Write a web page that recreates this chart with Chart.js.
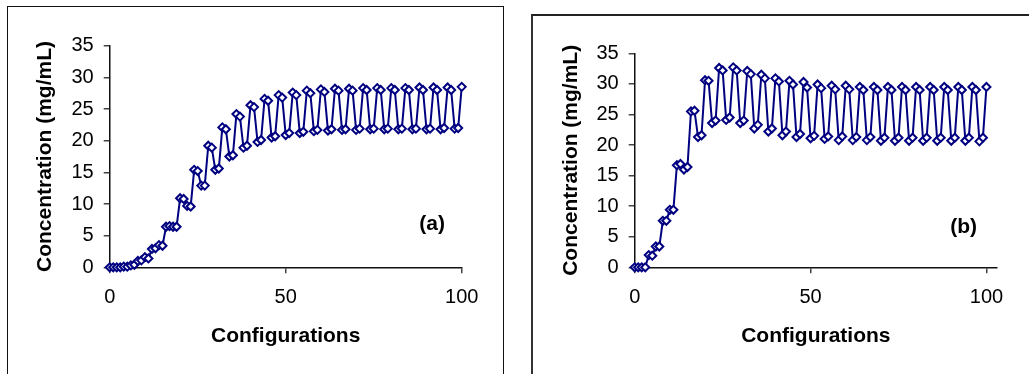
<!DOCTYPE html>
<html>
<head>
<meta charset="utf-8">
<script src="https://cdn.jsdelivr.net/npm/chart.js@4/dist/chart.umd.min.js"></script>
<style>
  html, body { margin: 0; padding: 0; background: #fff; }
  body { width: 1029px; height: 374px; position: relative; overflow: hidden; }
  .frame { position: absolute; box-sizing: border-box; }
  #frame-a { left: 7px; top: 6px; width: 497px; height: 400px; border: 1px solid #111; border-bottom: none; }
  #frame-b { left: 531px; top: 14px; width: 520px; height: 400px; border-left: 2px solid #333; border-top: 2px solid #222; }
  #wrap-a { position: absolute; left: 0; top: 0; width: 515px; height: 374px; }
  #wrap-b { position: absolute; left: 515px; top: 0; width: 514px; height: 374px; }
</style>
</head>
<body>
<div class="frame" id="frame-a"></div>
<div class="frame" id="frame-b"></div>
<div id="wrap-a"><canvas id="chart-a"></canvas></div>
<div id="wrap-b"><canvas id="chart-b"></canvas></div>
<script>
// Concentration (mg/mL) per configuration, panel (a)
const concA = [
  0, 0, 0, 0, 0.1, 0.1, 0.3, 0.4, 1.0, 1.1,
  1.6, 1.4, 2.9, 3.0, 3.5, 3.4, 6.4, 6.5, 6.4, 6.4,
  10.9, 10.8, 9.7, 9.6, 15.4, 15.2, 12.9, 12.9, 19.2, 18.9,
  15.4, 15.6, 22.1, 21.8, 17.5, 17.7, 24.2, 23.8, 18.9, 19.2,
  25.6, 25.3, 19.8, 20.1, 26.6, 26.3, 20.5, 20.7, 27.2, 26.8,
  20.9, 21.2, 27.6, 27.2, 21.2, 21.4, 27.9, 27.5, 21.5, 21.7,
  28.1, 27.7, 21.6, 21.8, 28.2, 27.9, 21.7, 21.8, 28.2, 27.9,
  21.7, 21.9, 28.3, 28.0, 21.8, 21.9, 28.3, 28.0, 21.8, 21.9,
  28.3, 28.0, 21.8, 21.9, 28.3, 28.0, 21.8, 21.9, 28.4, 28.0,
  21.8, 21.9, 28.4, 28.0, 21.8, 22.0, 28.4, 28.0, 21.9, 22.0,
  28.5
];

// Concentration (mg/mL) per configuration, panel (b)
const concB = [
  0, 0, 0, 0, 2.0, 1.9, 3.4, 3.4, 7.6, 7.6,
  9.4, 9.4, 16.7, 16.9, 16.0, 16.4, 25.5, 25.6, 21.3, 21.6,
  30.6, 30.5, 23.6, 24.0, 32.6, 32.2, 24.1, 24.5, 32.7, 32.2,
  23.6, 24.0, 32.1, 31.6, 22.7, 23.3, 31.5, 30.9, 22.2, 22.7,
  30.9, 30.4, 21.6, 22.2, 30.5, 29.9, 21.3, 21.8, 30.3, 29.4,
  21.1, 21.5, 29.9, 29.3, 21.0, 21.4, 29.7, 29.1, 20.8, 21.4,
  29.7, 29.1, 20.8, 21.3, 29.5, 29.0, 20.8, 21.3, 29.5, 29.0,
  20.7, 21.2, 29.5, 29.0, 20.7, 21.2, 29.5, 29.0, 20.7, 21.2,
  29.5, 29.0, 20.7, 21.2, 29.5, 29.0, 20.7, 21.2, 29.5, 29.0,
  20.7, 21.2, 29.5, 29.0, 20.7, 21.2, 29.5, 29.0, 20.6, 21.2,
  29.5
];

const xTicks = [0, 50, 100];
const yTicks = [0, 5, 10, 15, 20, 25, 30, 35];
const xTitle = "Configurations";
const yTitle = "Concentration (mg/mL)";

const navy = "#000080";
const fontFamily = "'Liberation Sans', Arial, sans-serif";

// Small plugin that writes the panel letter inside the plot
const panelLabel = {
  id: "panelLabel",
  afterDatasetsDraw(chart, args, opts) {
    const { ctx, scales } = chart;
    ctx.save();
    ctx.font = "bold 21px " + fontFamily;
    ctx.fillStyle = "#000";
    ctx.textAlign = "center";
    ctx.textBaseline = "middle";
    ctx.fillText(opts.text, scales.x.getPixelForValue(opts.x), scales.y.getPixelForValue(opts.y));
    ctx.restore();
  }
};

function makeChart(canvasId, values, cfg) {
  const points = values.map((v, i) => ({ x: i, y: v }));
  return new Chart(document.getElementById(canvasId), {
    type: "line",
    data: {
      datasets: [{
        data: points,
        borderColor: navy,
        borderWidth: 2,
        pointStyle: "rectRot",
        pointRadius: 4,
        pointBorderWidth: 2,
        pointBackgroundColor: "#fff",
        pointBorderColor: navy,
        tension: 0,
        clip: false
      }]
    },
    options: {
      responsive: true,
      maintainAspectRatio: false,
      animation: false,
      layout: { padding: cfg.padding },
      plugins: {
        legend: { display: false },
        tooltip: { enabled: false },
        panelLabel: cfg.label
      },
      scales: {
        x: {
          type: "linear",
          min: 0,
          max: cfg.xMax,
          afterBuildTicks: (scale) => { scale.ticks = xTicks.map((v) => ({ value: v })); },
          afterFit: (scale) => { scale.height = 106.7; },
          ticks: {
            color: "#000",
            font: { family: fontFamily, size: 20 },
            padding: 12,
            maxRotation: 0
          },
          grid: { drawOnChartArea: false, drawTicks: true, tickLength: 6, color: "#444", lineWidth: 1.5 },
          border: { display: true, color: "#111", width: 1.5 },
          title: {
            display: true,
            text: xTitle,
            color: "#000",
            font: { family: fontFamily, size: 21, weight: "bold", lineHeight: 1.2 },
            padding: { top: 0, bottom: 25 }
          }
        },
        y: {
          min: 0,
          max: 35,
          afterBuildTicks: (scale) => { scale.ticks = yTicks.map((v) => ({ value: v })); },
          afterFit: (scale) => { scale.width = cfg.yWidth; },
          ticks: {
            color: "#000",
            font: { family: fontFamily, size: 20 },
            padding: 10
          },
          grid: { drawOnChartArea: false, drawTicks: true, tickLength: 6, color: "#444", lineWidth: 1.5 },
          border: { display: true, color: "#111", width: 1.5 },
          title: {
            display: true,
            text: yTitle,
            color: "#000",
            font: { family: fontFamily, size: 21, weight: "bold", lineHeight: 1.2 },
            padding: { top: cfg.yTitlePad, bottom: 0 }
          }
        }
      }
    },
    plugins: [panelLabel]
  });
}

makeChart("chart-a", concA, {
  xMax: 100,
  yWidth: 109.7,
  yTitlePad: 33,
  padding: { top: 45.7, right: 53.3, left: 0, bottom: 0 },
  label: { text: "(a)", x: 91.6, y: 6.8 }
});

makeChart("chart-b", concB, {
  xMax: 103,
  yWidth: 119.7,
  yTitlePad: 44,
  padding: { top: 53.3, right: 32, left: 0, bottom: 0 },
  label: { text: "(b)", x: 93.5, y: 6.6 }
});
</script>
</body>
</html>
